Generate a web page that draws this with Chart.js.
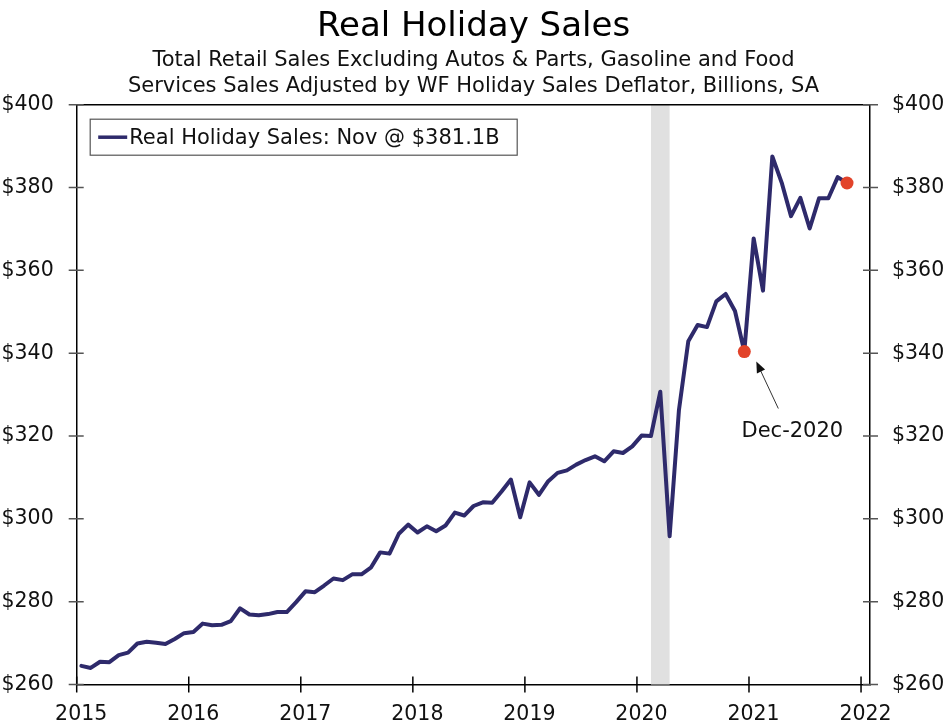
<!DOCTYPE html>
<html>
<head>
<meta charset="utf-8">
<title>Real Holiday Sales</title>
<script src="https://cdn.jsdelivr.net/npm/chart.js@4.4.1/dist/chart.umd.min.js"></script>
<style>
  html, body { margin: 0; padding: 0; background: #fff; }
  #wrap { width: 947px; height: 727px; }
</style>
</head>
<body>
<div id="wrap"><canvas id="chart" width="947" height="727"></canvas></div>
<script>
// monthly values, billions
var sales2015 = [264.5, 264.0, 265.5, 265.4, 267.1, 267.7, 269.9, 270.3, 270.1, 269.8, 271.0, 272.4];
var sales2016 = [272.7, 274.7, 274.3, 274.4, 275.3, 278.4, 276.9, 276.7, 277.0, 277.5, 277.5, 279.9];
var sales2017 = [282.5, 282.3, 283.9, 285.6, 285.2, 286.6, 286.6, 288.2, 291.9, 291.6, 296.4, 298.6];
var sales2018 = [296.7, 298.2, 297.0, 298.4, 301.5, 300.8, 303.1, 304.0, 303.9, 306.6, 309.5, 300.4];
var sales2019 = [308.8, 305.8, 309.1, 311.1, 311.7, 313.1, 314.2, 315.1, 313.9, 316.3, 315.9, 317.5];
var sales2020 = [320.1, 320.0, 330.7, 295.8, 326.3, 342.9, 346.8, 346.3, 352.5, 354.3, 350.2, 340.4];
var sales2021 = [367.7, 355.1, 387.5, 381.2, 373.1, 377.5, 370.1, 377.4, 377.4, 382.5, 381.1];

var years = [2015, 2016, 2017, 2018, 2019, 2020, 2021];
var salesByYear = [sales2015, sales2016, sales2017, sales2018, sales2019, sales2020, sales2021];

var yTicks = [260, 280, 300, 320, 340, 360, 380, 400];
var xTicks = [2015, 2016, 2017, 2018, 2019, 2020, 2021, 2022];

var recession = ['2020-02', '2020-04'];
var highlights = ['2020-12', '2021-11'];
var noteText = 'Dec-2020';
var legendText = 'Real Holiday Sales: Nov @ $381.1B';

var LINE = '#2E2A6B';
var DOT = '#E2432A';
var FONT = '"DejaVu Sans", Verdana, sans-serif';

// month string -> decimal year at middle of the month
function toX(ym) {
  var p = ym.split('-');
  return +p[0] + (+p[1] - 0.5) / 12;
}

var points = [];
for (var i = 0; i < years.length; i++) {
  for (var m = 0; m < salesByYear[i].length; m++) {
    var ym = years[i] + '-' + (m + 1 < 10 ? '0' : '') + (m + 1);
    points.push({ x: toX(ym), y: salesByYear[i][m], ym: ym });
  }
}
var dots = points.filter(function(p) { return highlights.indexOf(p.ym) >= 0; });

var recessionPlugin = {
  id: 'recession',
  beforeDatasetsDraw: function(chart) {
    var ctx = chart.ctx, a = chart.chartArea, x = chart.scales.x;
    var x0 = x.getPixelForValue(toX(recession[0]));
    var x1 = x.getPixelForValue(toX(recession[1]));
    ctx.save();
    ctx.fillStyle = '#E0E0E0';
    ctx.fillRect(x0, a.top, x1 - x0, a.bottom - a.top);
    ctx.restore();
  }
};

var framePlugin = {
  id: 'frame',
  afterDraw: function(chart) {
    var ctx = chart.ctx, a = chart.chartArea;
    var x = chart.scales.x, y = chart.scales.y;
    ctx.save();
    ctx.lineWidth = 1.5;
    ctx.strokeStyle = '#000';
    ctx.beginPath();
    ctx.moveTo(a.left, a.top);
    ctx.lineTo(a.right, a.top);
    ctx.stroke();
    // crossing ticks on the x axis
    x.ticks.forEach(function(t) {
      var px = x.getPixelForValue(t.value);
      ctx.beginPath();
      ctx.moveTo(px, a.bottom - 8);
      ctx.lineTo(px, a.bottom + 8);
      ctx.stroke();
    });
    // crossing ticks on both y axes
    ctx.strokeStyle = '#555';
    y.ticks.forEach(function(t) {
      var py = y.getPixelForValue(t.value);
      ctx.beginPath();
      ctx.moveTo(a.left - 8, py);
      ctx.lineTo(a.left + 7, py);
      ctx.moveTo(a.right - 7, py);
      ctx.lineTo(a.right + 8, py);
      ctx.stroke();
    });
    ctx.restore();
  }
};

var notePlugin = {
  id: 'note',
  afterDatasetsDraw: function(chart) {
    var ctx = chart.ctx, x = chart.scales.x, y = chart.scales.y;
    var d = dots[0];
    var dx = x.getPixelForValue(d.x), dy = y.getPixelForValue(d.y);
    var tipX = dx + 12, tipY = dy + 10;
    var tailX = dx + 34, tailY = dy + 57;
    var ang = Math.atan2(tipY - tailY, tipX - tailX);
    ctx.save();
    ctx.strokeStyle = '#333';
    ctx.fillStyle = '#111';
    ctx.lineWidth = 1;
    ctx.beginPath();
    ctx.moveTo(tailX, tailY);
    ctx.lineTo(tipX - 8 * Math.cos(ang), tipY - 8 * Math.sin(ang));
    ctx.stroke();
    ctx.beginPath();
    ctx.moveTo(tipX, tipY);
    ctx.lineTo(tipX - 11 * Math.cos(ang) + 4.5 * Math.sin(ang), tipY - 11 * Math.sin(ang) - 4.5 * Math.cos(ang));
    ctx.lineTo(tipX - 11 * Math.cos(ang) - 4.5 * Math.sin(ang), tipY - 11 * Math.sin(ang) + 4.5 * Math.cos(ang));
    ctx.closePath();
    ctx.fill();
    ctx.font = '21px ' + FONT;
    ctx.textAlign = 'center';
    ctx.textBaseline = 'middle';
    ctx.fillText(noteText, dx + 48, dy + 80);
    ctx.restore();
  }
};

var legendPlugin = {
  id: 'boxLegend',
  afterDraw: function(chart) {
    var ctx = chart.ctx, a = chart.chartArea;
    var bx = a.left + 13.5, by = a.top + 14.5, bw = 427, bh = 36;
    ctx.save();
    ctx.fillStyle = '#fff';
    ctx.fillRect(bx, by, bw, bh);
    ctx.strokeStyle = '#555';
    ctx.lineWidth = 1.2;
    ctx.strokeRect(bx, by, bw, bh);
    ctx.strokeStyle = LINE;
    ctx.lineWidth = 3.5;
    ctx.beginPath();
    ctx.moveTo(bx + 8, by + bh / 2);
    ctx.lineTo(bx + 37, by + bh / 2);
    ctx.stroke();
    ctx.fillStyle = '#111';
    ctx.font = '21px ' + FONT;
    ctx.textBaseline = 'middle';
    ctx.fillText(legendText, bx + 39, by + bh / 2 + 1);
    ctx.restore();
  }
};

function yAxis(pos, width, pad) {
  return {
    type: 'linear',
    position: pos,
    min: yTicks[0],
    max: yTicks[yTicks.length - 1],
    afterBuildTicks: function(s) { s.ticks = yTicks.map(function(v) { return { value: v }; }); },
    afterFit: function(s) { s.width = width; },
    grid: { display: false, drawTicks: false },
    border: { display: true, color: '#000', width: 1.5 },
    ticks: {
      padding: pad,
      color: '#111',
      font: { family: FONT, size: 20.5 },
      callback: function(v) { return '$' + v; }
    }
  };
}

new Chart(document.getElementById('chart'), {
  type: 'line',
  data: {
    datasets: [{
      label: 'Real Holiday Sales',
      data: points,
      borderColor: LINE,
      borderWidth: 4,
      borderJoinStyle: 'round',
      borderCapStyle: 'round',
      pointRadius: 0,
      tension: 0,
      fill: false,
      order: 2
    }, {
      label: 'Highlights',
      data: dots,
      showLine: false,
      pointRadius: 6.5,
      pointBackgroundColor: DOT,
      pointBorderWidth: 0,
      order: 1
    }]
  },
  options: {
    responsive: false,
    animation: false,
    devicePixelRatio: 1,
    layout: { padding: { top: 0, left: 0, right: 0, bottom: 0 } },
    plugins: {
      legend: { display: false },
      tooltip: { enabled: false },
      title: {
        display: true,
        text: 'Real Holiday Sales',
        color: '#000',
        font: { family: FONT, size: 34, weight: 'normal', lineHeight: 1.2 },
        padding: { top: 6.5, bottom: 0 }
      },
      subtitle: {
        display: true,
        text: ['Total Retail Sales Excluding Autos & Parts, Gasoline and Food',
               'Services Sales Adjusted by WF Holiday Sales Deflator, Billions, SA'],
        color: '#111',
        font: { family: FONT, size: 21, weight: 'normal', lineHeight: 1.2 },
        padding: { top: 1, bottom: 6 }
      }
    },
    scales: {
      x: {
        type: 'linear',
        min: xTicks[0],
        max: 2022.08,
        afterBuildTicks: function(s) { s.ticks = xTicks.map(function(v) { return { value: v }; }); },
        afterFit: function(s) { s.height = 42.5; },
        grid: { display: false, drawTicks: false },
        border: { display: true, color: '#000', width: 1.5 },
        ticks: {
          padding: 18,
          labelOffset: 4.5,
          maxRotation: 0,
          color: '#111',
          font: { family: FONT, size: 20.5 },
          callback: function(v) { return String(v); }
        }
      },
      y: yAxis('left', 76.7, 23),
      y2: yAxis('right', 77, 22)
    }
  },
  plugins: [recessionPlugin, notePlugin, legendPlugin, framePlugin]
});
</script>
</body>
</html>
